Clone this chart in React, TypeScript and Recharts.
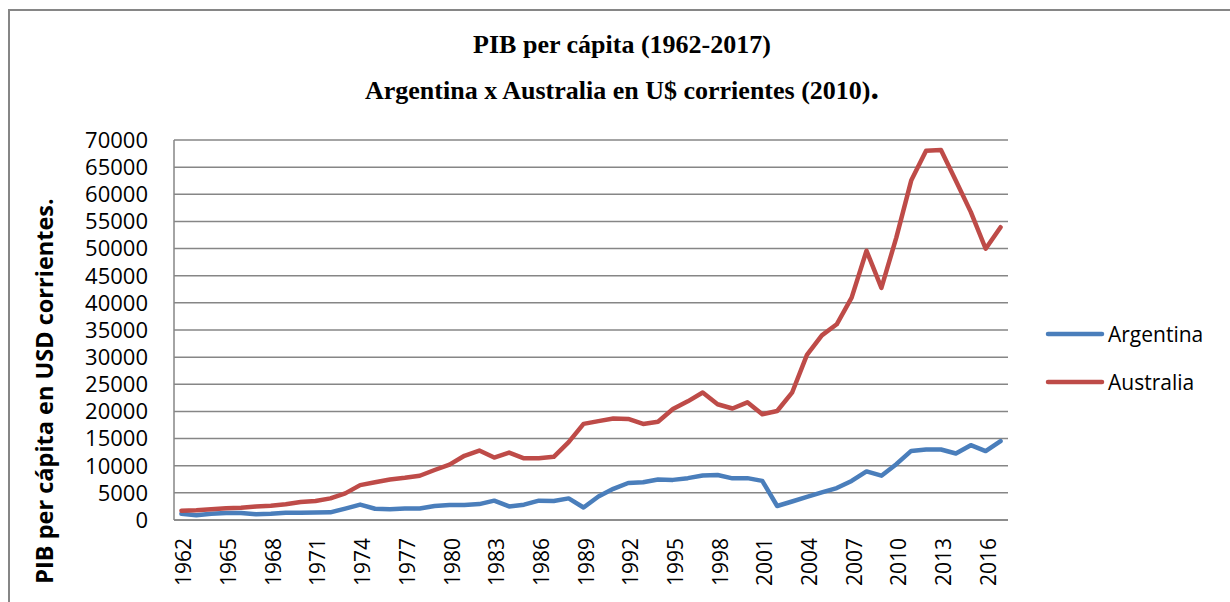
import React from 'react';
import { LineChart, Line, XAxis, YAxis, CartesianGrid, Legend } from 'recharts';

// PIB per cápita, USD corrientes
const years = [
  '1962', '1963', '1964', '1965', '1966', '1967', '1968', '1969', '1970', '1971',
  '1972', '1973', '1974', '1975', '1976', '1977', '1978', '1979', '1980', '1981',
  '1982', '1983', '1984', '1985', '1986', '1987', '1988', '1989', '1990', '1991',
  '1992', '1993', '1994', '1995', '1996', '1997', '1998', '1999', '2000', '2001',
  '2002', '2003', '2004', '2005', '2006', '2007', '2008', '2009', '2010', '2011',
  '2012', '2013', '2014', '2015', '2016', '2017',
];

const argentina = [
  1150, 870, 1170, 1280, 1270, 1060, 1140, 1330, 1320, 1370,
  1410, 2100, 2840, 2070, 1970, 2140, 2130, 2570, 2760, 2760,
  2930, 3560, 2500, 2820, 3560, 3500, 3980, 2300, 4330, 5740,
  6820, 6940, 7470, 7390, 7710, 8210, 8280, 7670, 7710, 7210,
  2580, 3410, 4250, 5080, 5880, 7190, 8950, 8160, 10280, 12730,
  12970, 12980, 12250, 13780, 12700, 14530,
];

const australia = [
  1700, 1790, 2000, 2170, 2260, 2470, 2620, 2900, 3300, 3490,
  3980, 4900, 6430, 6960, 7460, 7770, 8150, 9210, 10190, 11830,
  12790, 11500, 12420, 11360, 11390, 11630, 14340, 17700, 18220, 18700,
  18620, 17700, 18090, 20450, 21860, 23480, 21320, 20540, 21680, 19490,
  20080, 23450, 30430, 34020, 36050, 40960, 49600, 42770, 52020, 62520,
  68010, 68150, 62510, 56760, 49970, 53930,
];

const yTicks = [0, 5000, 10000, 15000, 20000, 25000, 30000, 35000, 40000, 45000, 50000, 55000, 60000, 65000, 70000];

const data = years.map((year, i) => ({
  year,
  Argentina: argentina[i],
  Australia: australia[i],
}));

const SANS = '"Open Sans", sans-serif';
const SERIF = '"Liberation Serif", "Times New Roman", serif';
const GRAY = '#868686';

const XTick = ({ x, y, payload }: any) => (
  <text
    x={x + 2}
    y={y}
    transform={`rotate(-90, ${x + 2}, ${y})`}
    textAnchor="end"
    dominantBaseline="central"
    fontFamily={SANS}
    fontSize={21}
    fill="#000"
  >
    {payload.value}
  </text>
);

const renderLegend = (props: any) => {
  const { payload } = props;
  return (
    <div>
      {payload.map((entry: any) => (
        <div key={entry.value} style={{ display: 'flex', alignItems: 'center', height: 48 }}>
          <svg width={60} height={10}>
            <line x1={3} y1={5} x2={57} y2={5} stroke={entry.color} strokeWidth={4.5} strokeLinecap="round" />
          </svg>
          <span style={{ fontFamily: SANS, fontSize: 21, color: '#000', marginLeft: 3 }}>{entry.value}</span>
        </div>
      ))}
    </div>
  );
};

const App = () => {
  return (
    <div style={{ position: 'fixed', left: 0, top: 0, width: 1230, height: 602, overflow: 'hidden', background: '#fff' }}>
      <div
        style={{
          position: 'absolute',
          left: 8,
          top: 9,
          width: 1240,
          height: 620,
          borderLeft: `2px solid ${GRAY}`,
          borderTop: `2px solid ${GRAY}`,
        }}
      />
      <div
        style={{
          position: 'absolute',
          left: 0,
          width: 1244,
          top: 23,
          textAlign: 'center',
          fontFamily: SERIF,
          fontWeight: 'bold',
          fontSize: 26,
          lineHeight: '43px',
          color: '#000',
        }}
      >
        <div>PIB per cápita (1962-2017)</div>
        <div>
          Argentina x Australia en U$ corrientes (2010)<span style={{ fontSize: 34 }}>.</span>
        </div>
      </div>
      <div style={{ position: 'absolute', left: 0, top: 0 }}>
        <LineChart width={1230} height={602} data={data} margin={{ top: 140, right: 222, bottom: 0, left: 0 }}>
          <CartesianGrid vertical={false} stroke={GRAY} strokeWidth={1.5} />
          <XAxis
            dataKey="year"
            interval={2}
            padding={{ left: 7.45, right: 7.45 }}
            height={82}
            tickLine={false}
            tickSize={0}
            tickMargin={18}
            axisLine={{ stroke: GRAY, strokeWidth: 1.5 }}
            tick={<XTick />}
          />
          <YAxis
            domain={[0, 70000]}
            ticks={yTicks}
            interval={0}
            width={174}
            tickLine={false}
            tickSize={0}
            tickMargin={26}
            axisLine={{ stroke: GRAY, strokeWidth: 1.5 }}
            tick={{ fill: '#000', fontSize: 22, fontFamily: SANS }}
            label={{
              content: () => (
                <text
                  x={44}
                  y={391}
                  transform="rotate(-90, 44, 391)"
                  textAnchor="middle"
                  dominantBaseline="central"
                  fontFamily={SANS}
                  fontWeight="bold"
                  fontSize={23.5}
                  fill="#000"
                >
                  PIB per cápita en USD corrientes.
                </text>
              ),
            }}
          />
          <Legend
            layout="vertical"
            align="center"
            verticalAlign="middle"
            content={renderLegend}
            wrapperStyle={{ left: 1045, top: 310, width: 185 }}
          />
          <Line
            type="linear"
            dataKey="Argentina"
            name="Argentina"
            stroke="#4A7EBB"
            strokeWidth={4.5}
            strokeLinejoin="round"
            strokeLinecap="round"
            dot={false}
            activeDot={false}
            isAnimationActive={false}
          />
          <Line
            type="linear"
            dataKey="Australia"
            name="Australia"
            stroke="#BE4B48"
            strokeWidth={4.5}
            strokeLinejoin="round"
            strokeLinecap="round"
            dot={false}
            activeDot={false}
            isAnimationActive={false}
          />
        </LineChart>
      </div>
    </div>
  );
};

export default App;
